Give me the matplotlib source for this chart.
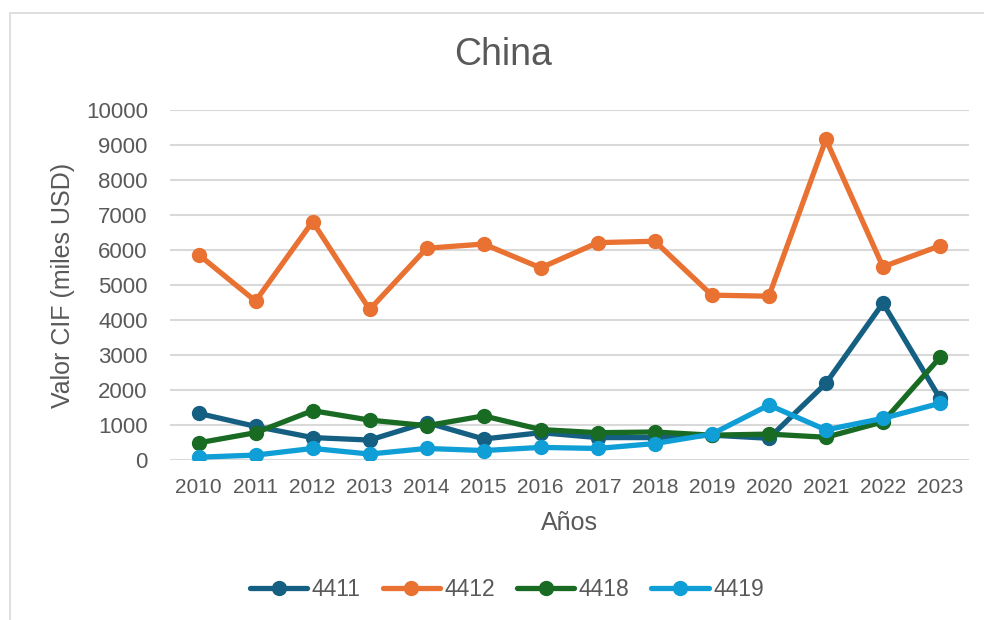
import matplotlib.pyplot as plt
from matplotlib.patches import Rectangle

plt.rcParams['font.family'] = ['Liberation Sans', 'DejaVu Sans']

years = [2010, 2011, 2012, 2013, 2014, 2015, 2016, 2017, 2018, 2019, 2020, 2021, 2022, 2023]
v4411 = [1333, 960, 640, 570, 1070, 600, 780, 640, 640, 710, 620, 2190, 4480, 1760]
v4412 = [5870, 4540, 6810, 4300, 6050, 6170, 5490, 6210, 6250, 4710, 4680, 9160, 5520, 6120]
v4418 = [490, 780, 1410, 1140, 980, 1260, 870, 780, 800, 710, 740, 650, 1090, 2930]
v4419 = [80, 140, 330, 170, 330, 270, 360, 330, 470, 740, 1570, 860, 1190, 1620]

series = [('4411', v4411, '#156082'),
          ('4412', v4412, '#E97132'),
          ('4418', v4418, '#196B24'),
          ('4419', v4419, '#0F9ED5')]

txt = '#595959'

fig = plt.figure(figsize=(9.84, 6.2), dpi=100)
ax = fig.add_axes([170/984, 1 - 460/620, (968.5 - 170)/984, 350/620])

x = list(range(len(years)))
for name, vals, col in series:
    ax.plot(x, vals, color=col, lw=3.8, marker='o', ms=10,
            solid_capstyle='round', solid_joinstyle='round', label=name)

ax.set_xlim(-0.5, len(years) - 0.5)
ax.set_ylim(0, 10000)
ax.set_yticks(range(0, 10001, 1000))
ax.set_xticks(x)
ax.set_xticklabels([str(y) for y in years])
ax.grid(axis='y', color='#D9D9D9', lw=1.5)
ax.set_axisbelow(True)
for s in ax.spines.values():
    s.set_visible(False)
ax.tick_params(axis='y', length=0, pad=16, labelsize=16, labelcolor=txt)
ax.tick_params(axis='x', length=0, pad=13, labelsize=15, labelcolor=txt)

ax.set_xlabel('Años', fontsize=18, color=txt, labelpad=10)
ax.set_ylabel('Valor CIF (miles USD)', fontsize=18, color=txt, labelpad=8)

fig.text(503/984, 1 - 55/620, 'China', ha='center', va='center', fontsize=27, color=txt)

fig.legend(loc='center', bbox_to_anchor=(507/984, 1 - 590/620), ncol=4, frameon=False,
           fontsize=16.5, labelcolor=txt, handlelength=2.5, handletextpad=0.2,
           columnspacing=0.95)

fig.add_artist(Rectangle((10/984, -0.1), 1.2, 1 - 13/620 + 0.1, transform=fig.transFigure,
                         fill=False, edgecolor='#D9D9D9', lw=1.2))

fig.savefig('out.png', dpi=100)
